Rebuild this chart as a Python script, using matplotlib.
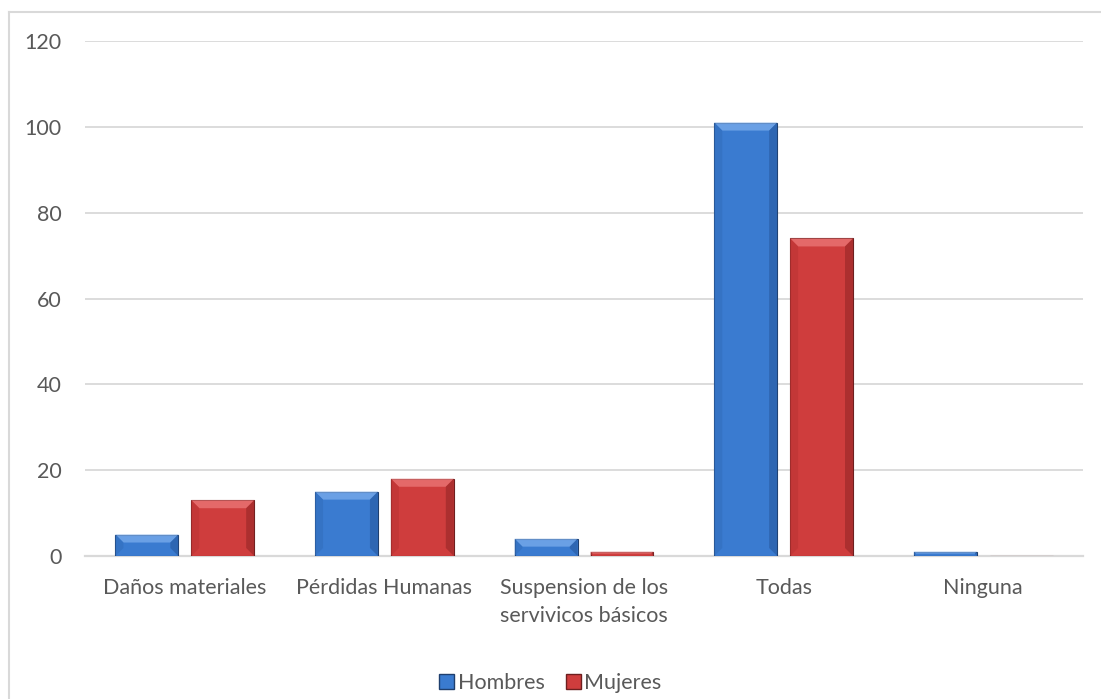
import numpy as np
import matplotlib
matplotlib.use("Agg")
import matplotlib.pyplot as plt
from matplotlib.patches import Polygon, Patch
from matplotlib.lines import Line2D

# data
categorias = ["Daños materiales", "Pérdidas Humanas", "Suspension de los\nservivicos básicos", "Todas", "Ninguna"]
hombres = [5, 15, 4, 101, 1]
mujeres = [13, 18, 1, 74, 0]
yticks = [0, 20, 40, 60, 80, 100, 120]

plt.rcParams['font.family'] = ['Lato', 'DejaVu Sans']
gris = "#595959"

fig = plt.figure(figsize=(11.01, 6.99), dpi=100)
ax = fig.add_axes([0.0772, 0.2046, 0.9065, 0.7367])

x = np.arange(len(categorias))
ancho = 0.315
b1 = ax.bar(x - 0.19, hombres, ancho, color="#3a7bd0", edgecolor="#1f3f6e", linewidth=0.8, zorder=3)
b2 = ax.bar(x + 0.19, mujeres, ancho, color="#cf3d3d", edgecolor="#6e1f1f", linewidth=0.8, zorder=3)

ax.set_xlim(-0.5, len(categorias) - 0.5)
ax.set_ylim(0, 120)
ax.set_yticks(yticks)
ax.set_xticks(x)
ax.set_xticklabels(categorias, linespacing=1.55)
ax.tick_params(axis="both", length=0, labelsize=15.5, colors=gris)
ax.tick_params(axis="y", pad=17)
ax.tick_params(axis="x", pad=15.5)
ax.grid(axis="y", color="#d9d9d9", linewidth=1.3, zorder=0)
for s in ["top", "right", "left"]:
    ax.spines[s].set_visible(False)
ax.spines["bottom"].set_color("#d9d9d9")
ax.spines["bottom"].set_linewidth(1.6)

# bevel: lighter top, darker sides
fig.canvas.draw()
tr = ax.transData
def bevel(bars, claro, oscuro, medio):
    for r in bars:
        x0, y0 = r.get_x(), r.get_y()
        x1, y1 = x0 + r.get_width(), y0 + r.get_height()
        (px0, py0), (px1, py1) = tr.transform([(x0, y0), (x1, y1)])
        h = py1 - py0
        if h < 1:
            continue
        d = min(8, h / 2.2)
        caras = [
            ([(px0, py1), (px1, py1), (px1 - d, py1 - d), (px0 + d, py1 - d)], claro),
            ([(px0, py0), (px0, py1), (px0 + d, py1 - d), (px0 + d, py0 + d)], medio),
            ([(px1, py0), (px1, py1), (px1 - d, py1 - d), (px1 - d, py0 + d)], oscuro),
        ]
        for pts, c in caras:
            ax.add_patch(Polygon(pts, closed=True, transform=None, facecolor=c,
                                 edgecolor="none", alpha=0.7, zorder=4))

bevel(b1, "#7fb0ee", "#2a5ea6", "#3370c0")
bevel(b2, "#ee7d7d", "#9e2a2a", "#bf3535")

# legend
h1 = Patch(facecolor="#3a7bd0", edgecolor="#1f3f6e")
h2 = Patch(facecolor="#cf3d3d", edgecolor="#6e1f1f")
fig.legend([h1, h2], ["Hombres", "Mujeres"], loc="center", bbox_to_anchor=(0.5, 1 - 683 / 699),
           ncol=2, frameon=False, fontsize=15.5, labelcolor=gris, handlelength=0.7,
           handleheight=0.7, handletextpad=0.15, columnspacing=1.0)

# outer frame lines (top and left)
fig.add_artist(Line2D([8.5 / 1101, 1], [1 - 12 / 699, 1 - 12 / 699], color="#d9d9d9", lw=1.5))
fig.add_artist(Line2D([8.5 / 1101, 8.5 / 1101], [0, 1 - 12 / 699], color="#d9d9d9", lw=1.5))

fig.savefig("out.png", dpi=100, facecolor="white")
